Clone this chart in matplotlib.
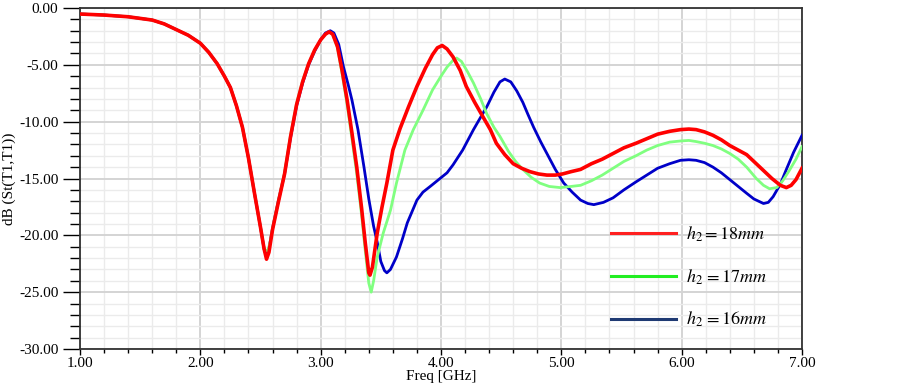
import matplotlib
matplotlib.use("Agg")
import matplotlib.pyplot as plt
from matplotlib.lines import Line2D
from matplotlib.ticker import MultipleLocator, FormatStrFormatter

plt.rcParams['font.family'] = ['Liberation Serif', 'DejaVu Serif']
plt.rcParams['mathtext.fontset'] = 'stix'

# shared low-frequency part (all three curves overlap here)
freq_base = [1.00, 1.20, 1.40, 1.60, 1.70, 1.80, 1.90, 2.00, 2.07, 2.14, 2.20, 2.25,
             2.30, 2.35, 2.40, 2.45, 2.50, 2.53]
db_base = [-0.53, -0.62, -0.77, -1.06, -1.40, -1.90, -2.40, -3.10, -3.90, -4.90, -6.00, -7.00,
           -8.60, -10.5, -13.2, -16.3, -19.3, -21.2]

# h2 = 18 mm
freq_18 = freq_base + [2.55, 2.57, 2.60, 2.65, 2.70, 2.75, 2.80, 2.85, 2.90, 2.95, 3.00, 3.04,
                       3.07, 3.10, 3.14, 3.18, 3.22, 3.26, 3.30, 3.34, 3.37, 3.40, 3.41, 3.43,
                       3.47, 3.51, 3.55, 3.60, 3.66, 3.73, 3.80, 3.87, 3.93, 3.97, 4.01, 4.05,
                       4.10, 4.16, 4.21, 4.28, 4.35, 4.41, 4.46, 4.53, 4.60, 4.67, 4.74, 4.81,
                       4.88, 4.95, 5.01, 5.08, 5.16, 5.25, 5.34, 5.43, 5.52, 5.62, 5.71, 5.80,
                       5.90, 5.99, 6.06, 6.12, 6.19, 6.26, 6.33, 6.40, 6.47, 6.54, 6.61, 6.68,
                       6.75, 6.82, 6.87, 6.91, 6.95, 7.00]
db_18 = db_base + [-22.1, -21.5, -19.5, -17.0, -14.6, -11.3, -8.5, -6.5, -4.9, -3.7, -2.8, -2.3,
                   -2.1, -2.3, -3.4, -5.6, -8.1, -11.0, -14.0, -17.6, -20.6, -23.3, -23.5, -22.8,
                   -19.8, -17.5, -15.4, -12.5, -10.6, -8.7, -6.9, -5.3, -4.1, -3.5, -3.3, -3.6,
                   -4.3, -5.5, -6.9, -8.3, -9.6, -10.7, -11.9, -12.9, -13.7, -14.1, -14.4, -14.6,
                   -14.7, -14.7, -14.6, -14.4, -14.2, -13.7, -13.3, -12.8, -12.3, -11.9, -11.5, -11.1,
                   -10.85, -10.7, -10.65, -10.7, -10.9, -11.2, -11.6, -12.1, -12.5, -12.9, -13.6, -14.3,
                   -15.0, -15.6, -15.8, -15.6, -15.1, -14.1]

# h2 = 17 mm
freq_17 = freq_base + [2.56, 2.58, 2.60, 2.65, 2.70, 2.75, 2.80, 2.85, 2.90, 2.95, 3.00, 3.04,
                       3.07, 3.10, 3.14, 3.18, 3.22, 3.26, 3.30, 3.34, 3.37, 3.40, 3.42, 3.44,
                       3.47, 3.52, 3.58, 3.63, 3.70, 3.77, 3.85, 3.93, 4.00, 4.05, 4.10, 4.13,
                       4.17, 4.22, 4.27, 4.33, 4.38, 4.44, 4.49, 4.56, 4.62, 4.68, 4.75, 4.82,
                       4.90, 4.99, 5.08, 5.16, 5.25, 5.34, 5.43, 5.52, 5.62, 5.71, 5.80, 5.90,
                       5.99, 6.06, 6.12, 6.19, 6.26, 6.33, 6.40, 6.47, 6.54, 6.62, 6.68, 6.73,
                       6.79, 6.84, 6.90, 6.95, 7.00]
db_17 = db_base + [-21.4, -20.6, -19.4, -16.9, -14.5, -11.2, -8.4, -6.4, -4.9, -3.7, -2.8, -2.3,
                   -2.1, -2.3, -3.5, -5.9, -8.5, -11.5, -14.6, -18.2, -21.3, -24.2, -25.0, -24.0,
                   -21.9, -19.8, -17.8, -15.4, -12.5, -10.7, -9.0, -7.2, -6.0, -5.2, -4.6, -4.4,
                   -4.7, -5.6, -6.6, -8.0, -9.3, -10.5, -11.3, -12.6, -13.5, -14.2, -14.9, -15.4,
                   -15.7, -15.8, -15.7, -15.6, -15.2, -14.7, -14.1, -13.5, -13.0, -12.5, -12.1, -11.8,
                   -11.7, -11.65, -11.75, -11.9, -12.1, -12.4, -12.8, -13.3, -14.0, -15.0, -15.6, -15.9,
                   -15.8, -15.2, -14.2, -13.3, -12.2]

# h2 = 16 mm
freq_16 = freq_base + [2.55, 2.57, 2.60, 2.65, 2.70, 2.75, 2.80, 2.85, 2.90, 2.95, 3.00, 3.04,
                       3.08, 3.11, 3.15, 3.19, 3.23, 3.26, 3.31, 3.36, 3.40, 3.44, 3.47, 3.50,
                       3.53, 3.55, 3.58, 3.63, 3.68, 3.72, 3.80, 3.85, 3.91, 3.98, 4.05, 4.10,
                       4.18, 4.22, 4.27, 4.33, 4.38, 4.44, 4.49, 4.53, 4.58, 4.63, 4.68, 4.72,
                       4.77, 4.83, 4.88, 4.95, 5.02, 5.09, 5.16, 5.22, 5.27, 5.35, 5.43, 5.52,
                       5.62, 5.71, 5.80, 5.90, 5.99, 6.06, 6.12, 6.19, 6.26, 6.33, 6.40, 6.47,
                       6.54, 6.60, 6.68, 6.72, 6.76, 6.82, 6.87, 6.93, 7.00]
db_16 = db_base + [-21.8, -21.2, -19.4, -16.9, -14.6, -11.4, -8.6, -6.6, -5.0, -3.8, -2.8, -2.2,
                   -2.0, -2.2, -3.2, -5.2, -6.8, -8.1, -10.7, -14.0, -16.8, -19.2, -20.6, -22.3,
                   -23.1, -23.3, -23.0, -21.9, -20.3, -18.9, -16.9, -16.2, -15.7, -15.1, -14.5, -13.8,
                   -12.5, -11.7, -10.7, -9.6, -8.7, -7.4, -6.5, -6.25, -6.5, -7.3, -8.3, -9.3,
                   -10.5, -11.8, -12.8, -14.2, -15.4, -16.2, -16.9, -17.2, -17.3, -17.1, -16.7, -16.0,
                   -15.3, -14.7, -14.1, -13.7, -13.4, -13.35, -13.4, -13.6, -14.0, -14.5, -15.1, -15.7,
                   -16.3, -16.8, -17.2, -17.1, -16.6, -15.5, -14.2, -12.7, -11.2]

labels = [r'$h_2=18mm$', r'$h_2\,=17mm$', r'$h_2\,=16mm$']

fig = plt.figure(figsize=(9.02, 3.84), dpi=100)
ax = fig.add_axes([80 / 902, 35 / 384, 722 / 902, 341 / 384])

ax.plot(freq_16, db_16, color='#0000c8', lw=2.0, zorder=3)
ax.plot(freq_17, db_17, color='#80ff80', lw=2.0, zorder=3)
ax.plot(freq_18, db_18, color='#ff0000', lw=2.6, zorder=4)

ax.set_xlim(1, 7)
ax.set_ylim(-30, 0)
ax.xaxis.set_major_locator(MultipleLocator(1))
ax.xaxis.set_minor_locator(MultipleLocator(0.2))
ax.yaxis.set_major_locator(MultipleLocator(5))
ax.yaxis.set_minor_locator(MultipleLocator(1))
ax.xaxis.set_major_formatter(FormatStrFormatter('%.2f'))
ax.yaxis.set_major_formatter(FormatStrFormatter('%.2f'))

ax.grid(which='major', color='#d4d4d4', lw=1.4, zorder=0)
ax.grid(which='minor', color='#ebebeb', lw=1.0, zorder=0)
ax.set_axisbelow(True)

ax.tick_params(axis='y', which='major', length=12, width=1, labelsize=11, direction='out')
ax.tick_params(axis='y', which='minor', length=7, width=1, direction='out')
ax.tick_params(axis='x', which='major', length=4, width=1, labelsize=11, direction='out', pad=2)
ax.tick_params(axis='x', which='minor', length=3, width=1, direction='out')
for sp in ax.spines.values():
    sp.set_color('#333333')
    sp.set_linewidth(1.3)

ax.set_xlabel('Freq [GHz]', fontsize=11, labelpad=0)
ax.set_ylabel('dB (St(T1,T1))', fontsize=11, labelpad=2)

handles = [Line2D([], [], color='#ff2020', lw=2.2),
           Line2D([], [], color='#22ee22', lw=2.2),
           Line2D([], [], color='#1f3a73', lw=2.2)]
ax.legend(handles, labels, loc='upper left', bbox_to_anchor=(0.725, 0.387),
          frameon=False, fontsize=13, handlelength=3.6, handletextpad=0.55,
          labelspacing=1.3, borderaxespad=0)

fig.savefig('out.png', dpi=100)
